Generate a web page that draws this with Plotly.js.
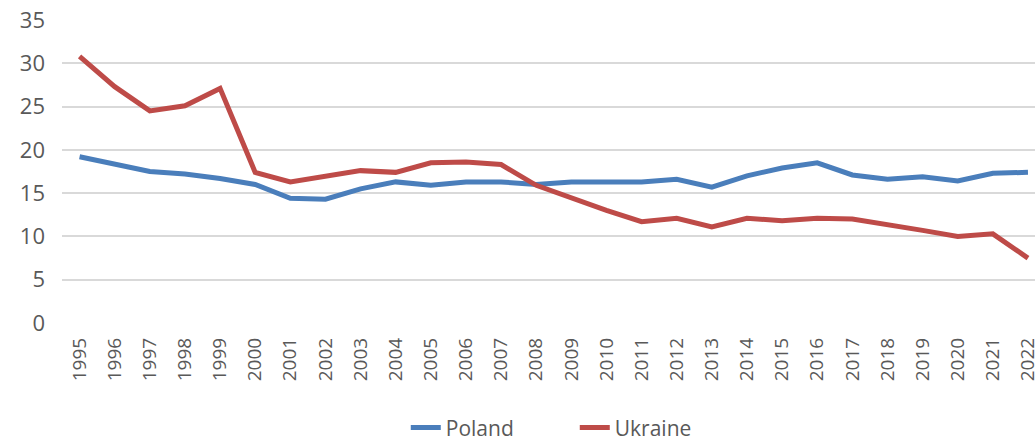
<!DOCTYPE html>
<html>
<head>
<meta charset="utf-8">
<script src="https://cdn.plot.ly/plotly-3.0.1.min.js"></script>
<style>html,body{margin:0;padding:0;background:#fff;overflow:hidden}</style>
</head>
<body>
<div id="chart" style="width:1035px;height:441px"></div>
<script>
const years = ["1995","1996","1997","1998","1999","2000","2001","2002","2003","2004","2005","2006","2007","2008","2009","2010","2011","2012","2013","2014","2015","2016","2017","2018","2019","2020","2021","2022"];
const poland = [19.2,18.4,17.5,17.2,16.7,16.0,14.4,14.3,15.5,16.3,15.9,16.3,16.3,16.0,16.3,16.3,16.3,16.6,15.7,17.0,17.9,18.5,17.1,16.6,16.9,16.4,17.3,17.4];
const ukraine = [30.8,27.3,24.5,25.1,27.1,17.4,16.3,17.0,17.6,17.4,18.5,18.6,18.3,15.9,14.4,13.0,11.7,12.1,11.1,12.1,11.8,12.1,12.0,11.4,10.7,10.0,10.3,7.5];
const yTicks = [0,5,10,15,20,25,30,35];

const font = {family: "Open Sans, Liberation Sans, sans-serif", color: "#595959"};
const traces = [
  {x: years, y: poland, name: "Poland", type: "scatter", mode: "lines",
   line: {color: "#4a7ebb", width: 5}},
  {x: years, y: ukraine, name: "Ukraine", type: "scatter", mode: "lines",
   line: {color: "#be4b48", width: 5}}
];
const layout = {
  width: 1035, height: 441,
  margin: {l: 62, r: 0, t: 20, b: 118, pad: 0, autoexpand: false},
  paper_bgcolor: "#fff", plot_bgcolor: "#fff",
  showlegend: true,
  hovermode: false,
  font: font,
  xaxis: {
    type: "category", range: [-0.5, 27.2], automargin: false,
    tickangle: -90, tickfont: {size: 19, color: "#595959"},
    ticklabelstandoff: 10,
    showgrid: false, showline: false, zeroline: false, ticks: "",
    fixedrange: true
  },
  yaxis: {
    range: [0, 35], tickvals: yTicks, ticktext: yTicks.map(String), automargin: false,
    tickfont: {size: 22, color: "#595959"},
    showgrid: true, gridcolor: "#d9d9d9", gridwidth: 2,
    zeroline: false, showline: false, ticks: "", ticklabelstandoff: 16,
    fixedrange: true
  },
  legend: {
    orientation: "h", x: 0.527, xanchor: "center",
    yref: "container", y: 0.03, yanchor: "middle",
    font: {size: 21, color: "#595959"}, entrywidth: 124, entrywidthmode: "pixels"
  }
};
Plotly.newPlot("chart", traces, layout, {displayModeBar: false, staticPlot: true});
</script>
</body>
</html>
